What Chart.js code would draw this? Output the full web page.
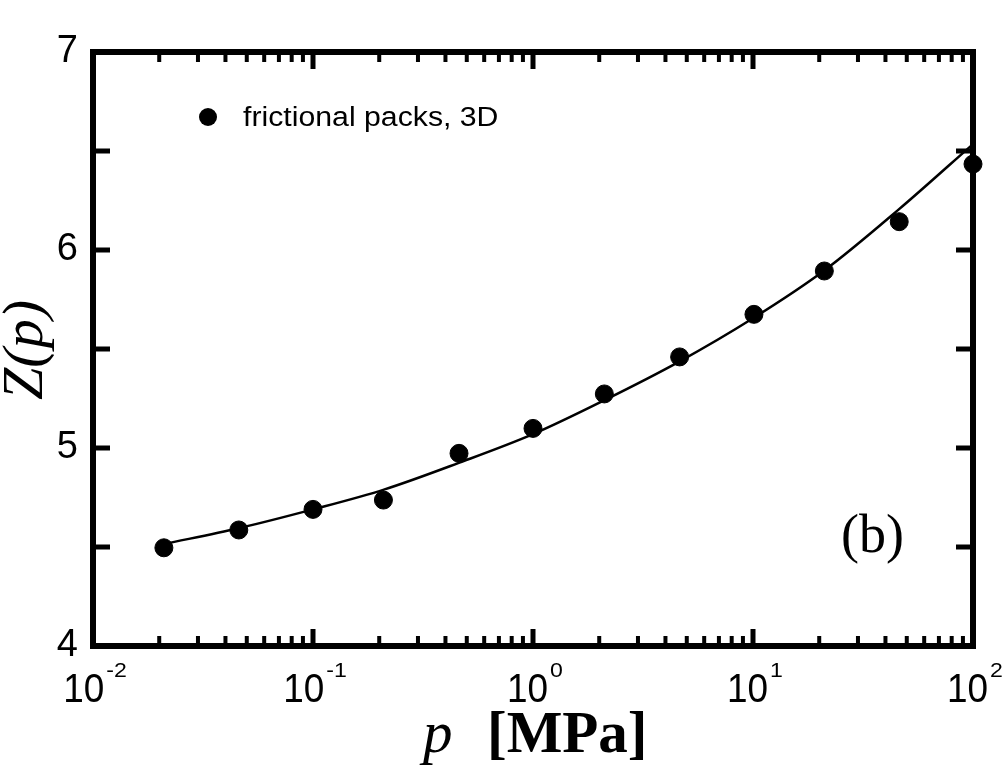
<!DOCTYPE html>
<html>
<head>
<meta charset="utf-8">
<script src="https://cdn.jsdelivr.net/npm/chart.js@4.4.0/dist/chart.umd.min.js"></script>
<style>
  html, body { margin: 0; padding: 0; background: #fff; }
  canvas { display: block; }
</style>
</head>
<body>
<canvas id="chart" width="1006" height="766"></canvas>
<script>
// measured packs (dots)
const pointP = [0.021, 0.046, 0.1, 0.209, 0.461, 1.0, 2.11, 4.64, 10.1, 21.1, 46.2, 100];
const pointZ = [4.496, 4.586, 4.69, 4.737, 4.973, 5.099, 5.273, 5.46, 5.675, 5.894, 6.143, 6.434];

// fitted curve
const curveP = [0.021, 0.046, 0.1, 0.21, 0.46, 1, 2.1, 4.6, 10, 21, 46, 100];
const curveZ = [4.515, 4.595, 4.69, 4.79, 4.925, 5.07, 5.24, 5.435, 5.655, 5.895, 6.205, 6.535];

const xTickExps = [-2, -1, 0, 1, 2];
const yTicks = [4, 5, 6, 7];

const legendLabel = 'frictional packs, 3D';
const panelLabel = '(b)';

const SANS = '"Liberation Sans", Arial, Helvetica, sans-serif';
const SERIF = '"Liberation Serif", "Times New Roman", serif';

// frame, inward ticks, x labels and all the annotation text
const decorations = {
    id: 'decorations',
    afterDatasetsDraw(chart) {
        const { ctx, chartArea: a, scales: { x, y } } = chart;
        ctx.save();
        ctx.strokeStyle = '#000';
        ctx.fillStyle = '#000';
        ctx.lineCap = 'butt';

        // y ticks every 0.5, left and right
        ctx.lineWidth = 5;
        for (let v = 4.5; v < 7; v += 0.5) {
            const py = y.getPixelForValue(v);
            ctx.beginPath();
            ctx.moveTo(a.left, py); ctx.lineTo(a.left + 17, py);
            ctx.moveTo(a.right, py); ctx.lineTo(a.right - 17, py);
            ctx.stroke();
        }

        // x ticks: decades long, 2..9 short, bottom and top
        for (let d = -2; d < 2; d++) {
            for (let k = 1; k <= 9; k++) {
                if (d === -2 && k === 1) continue;
                const px = x.getPixelForValue(k * Math.pow(10, d));
                const len = k === 1 ? 17 : 10;
                ctx.lineWidth = k === 1 ? 5 : 4;
                ctx.beginPath();
                ctx.moveTo(px, a.bottom); ctx.lineTo(px, a.bottom - len);
                ctx.moveTo(px, a.top); ctx.lineTo(px, a.top + len);
                ctx.stroke();
            }
        }

        // frame
        ctx.lineWidth = 6;
        ctx.strokeRect(a.left, a.top, a.right - a.left, a.bottom - a.top);

        // x tick labels 10^n
        xTickExps.forEach(e => {
            const px = x.getPixelForValue(Math.pow(10, e));
            const sx = 0.9;
            const ss = 1.1;
            ctx.font = '41px ' + SANS;
            const w1 = ctx.measureText('10').width * sx;
            ctx.font = '21px ' + SANS;
            const w2 = ctx.measureText(String(e)).width * ss;
            const x0 = px - (w1 + 2 + w2) / 2 + 2;
            ctx.textAlign = 'left';
            ctx.textBaseline = 'alphabetic';
            ctx.save();
            ctx.translate(x0, 702);
            ctx.scale(sx, 1);
            ctx.font = '41px ' + SANS;
            ctx.fillText('10', 0, 0);
            ctx.restore();
            ctx.save();
            ctx.translate(x0 + w1 + 2, 677);
            ctx.scale(ss, 1);
            ctx.font = '21px ' + SANS;
            ctx.fillText(String(e), 0, 0);
            ctx.restore();
        });

        // x title: p [MPa]
        ctx.textAlign = 'left';
        ctx.textBaseline = 'alphabetic';
        ctx.font = 'italic 59px ' + SERIF;
        ctx.fillText('p', 423, 752);
        ctx.font = 'bold 59px ' + SERIF;
        ctx.fillText('[MPa]', 487, 752);

        // y title: Z(p)
        ctx.save();
        ctx.translate(42, 350);
        ctx.rotate(-Math.PI / 2);
        ctx.textAlign = 'center';
        ctx.font = 'italic 58px ' + SERIF;
        ctx.fillText('Z(p)', 0, 0);
        ctx.restore();

        // legend
        ctx.beginPath();
        ctx.arc(208, 117, 9, 0, Math.PI * 2);
        ctx.fill();
        ctx.save();
        ctx.translate(243, 126);
        ctx.scale(1.12, 1);
        ctx.font = '27px ' + SANS;
        ctx.textAlign = 'left';
        ctx.fillText(legendLabel, 0, 0);
        ctx.restore();

        // panel label
        ctx.font = '54px ' + SERIF;
        ctx.textAlign = 'left';
        ctx.fillText(panelLabel, 841, 552);

        ctx.restore();
    }
};

new Chart(document.getElementById('chart'), {
    type: 'scatter',
    data: {
        datasets: [
            {
                label: 'fit',
                type: 'line',
                data: curveP.map((p, i) => ({ x: p, y: curveZ[i] })),
                borderColor: '#000',
                borderWidth: 2.5,
                pointRadius: 0,
                fill: false,
                cubicInterpolationMode: 'monotone',
                clip: false
            },
            {
                label: legendLabel,
                data: pointP.map((p, i) => ({ x: p, y: pointZ[i] })),
                backgroundColor: '#000',
                borderColor: '#000',
                pointRadius: 9,
                pointHoverRadius: 9,
                clip: false
            }
        ]
    },
    options: {
        responsive: false,
        animation: false,
        devicePixelRatio: 1,
        layout: { padding: { left: 0, top: 52, right: 33, bottom: 120 } },
        plugins: {
            legend: { display: false },
            tooltip: { enabled: false }
        },
        scales: {
            x: {
                type: 'logarithmic',
                min: 0.01,
                max: 100,
                display: false
            },
            y: {
                type: 'linear',
                min: 4,
                max: 7,
                grid: { display: false },
                border: { display: false },
                ticks: {
                    stepSize: 1,
                    color: '#000',
                    padding: 7,
                    font: { family: SANS, size: 38 },
                    callback: v => yTicks.includes(v) ? String(v) : ''
                },
                afterFit: s => { s.width = 93; }
            }
        }
    },
    plugins: [decorations]
});
</script>
</body>
</html>
